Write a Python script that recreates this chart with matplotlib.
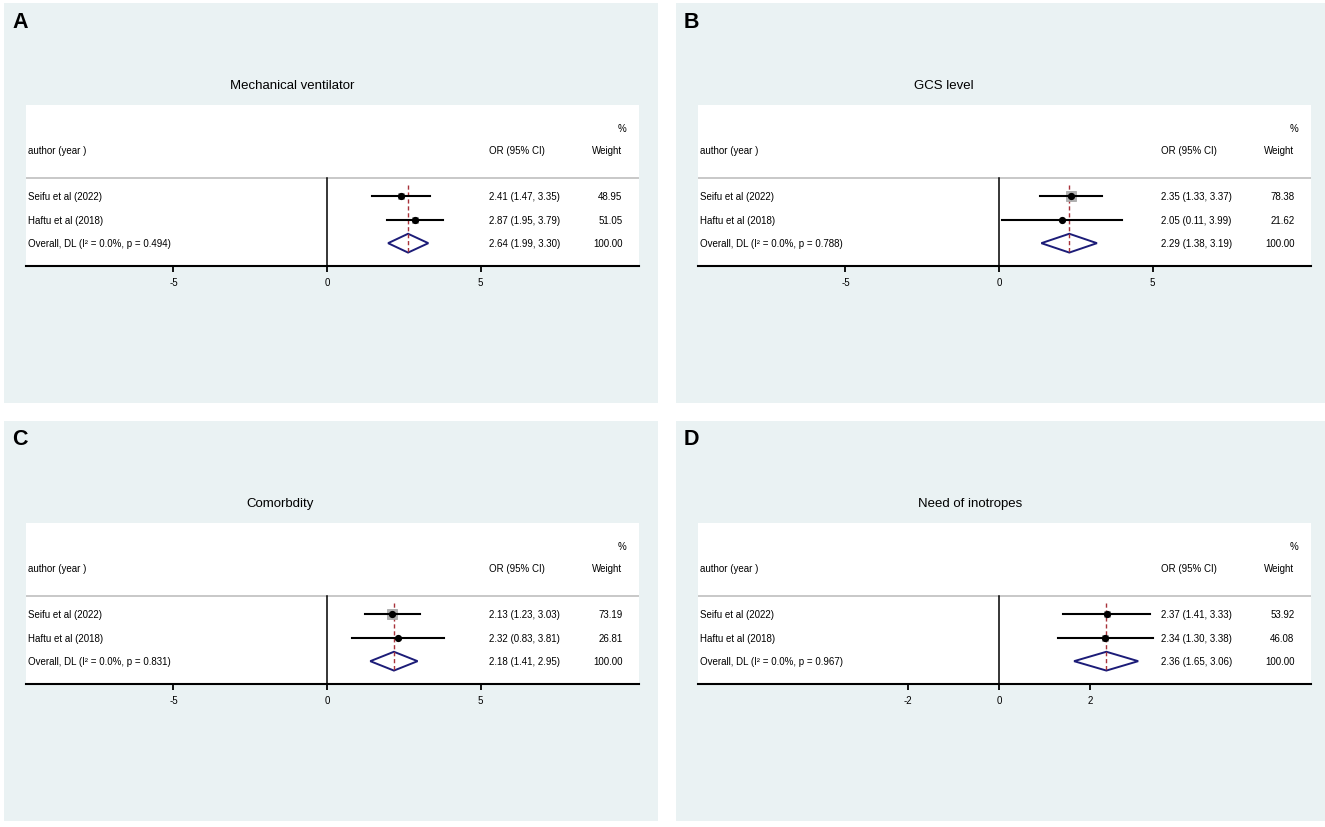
import matplotlib
matplotlib.use("Agg")
import matplotlib.pyplot as plt
from matplotlib.patches import Rectangle, Polygon

plt.rcParams['font.family'] = ['Liberation Sans', 'DejaVu Sans']

# ---------------- data ----------------
panel_letters = ["A", "B", "C", "D"]
titles = ["Mechanical ventilator", "GCS level", "Comorbdity", "Need of inotropes"]
studies = ["Seifu et al (2022)", "Haftu et al (2018)"]

est = [[2.41, 2.87], [2.35, 2.05], [2.13, 2.32], [2.37, 2.34]]
lower = [[1.47, 1.95], [1.33, 0.11], [1.23, 0.83], [1.41, 1.30]]
upper = [[3.35, 3.79], [3.37, 3.99], [3.03, 3.81], [3.33, 3.38]]
weights = [[48.95, 51.05], [78.38, 21.62], [73.19, 26.81], [53.92, 46.08]]

pooled_est = [2.64, 2.29, 2.18, 2.36]
pooled_low = [1.99, 1.38, 1.41, 1.65]
pooled_high = [3.30, 3.19, 2.95, 3.06]
i2 = ["0.0%", "0.0%", "0.0%", "0.0%"]
pvals = ["0.494", "0.788", "0.831", "0.967"]

xticks = [[-5, 0, 5], [-5, 0, 5], [-5, 0, 5], [-2, 0, 2]]
xlims = [(-9.80, 10.16), (-9.80, 10.16), (-9.80, 10.16), (-6.62, 6.86)]

# ---------------- layout (pixels) ----------------
W, H = 1325, 828
fig = plt.figure(figsize=(W / 100, H / 100), dpi=100)
fig.patch.set_facecolor("white")

offsets = [(0, 0), (672, 0), (0, 418), (672, 418)]
title_x = [292, 944, 280, 970]
bg_color = "#eaf2f3"


def fig_rect(x0, y0, x1, y1):
    return [x0 / W, 1 - y1 / H, (x1 - x0) / W, (y1 - y0) / H]


for k in range(4):
    dx, dy = offsets[k]
    # background (graph region)
    x0, y0, x1, y1 = 4 + dx, 4 + dy, min(658 + dx, W), 404 + dy
    fig.add_artist(Rectangle((x0 / W, 1 - y1 / H), (x1 - x0) / W, (y1 - y0) / H,
                             transform=fig.transFigure, facecolor=bg_color,
                             edgecolor="none", zorder=0))
    # panel letter
    fig.text((12 + dx) / W, 1 - (22 + dy) / H, panel_letters[k], fontsize=15.5,
             fontweight="bold", ha="left", va="center")
    # title
    fig.text((title_x[k]) / W, 1 - (86 + dy) / H, titles[k], fontsize=9.5,
             ha="center", va="center")

    ax = fig.add_axes(fig_rect(26 + dx, 105.5 + dy, 639 + dx, 266.5 + dy))
    ax.set_facecolor("white")
    ax.set_xlim(*xlims[k])
    ax.set_ylim(3.95, -2.9)
    for s in ["left", "right", "top"]:
        ax.spines[s].set_visible(False)
    ax.spines["bottom"].set_linewidth(1.5)
    ax.spines["bottom"].set_color("black")
    ax.set_yticks([])
    ax.set_xticks(xticks[k])
    ax.set_xticklabels([str(t) for t in xticks[k]])
    ax.tick_params(axis="x", direction="out", length=4, width=1.3, pad=4.5,
                   labelsize=7, colors="black")

    trans = ax.get_yaxis_transform()  # x in axes fraction, y in data

    # header
    ax.text(0.004, -1.91 + 0.96, "author (year )", transform=trans, fontsize=7,
            ha="left", va="center")
    ax.text(0.756, -0.95, "OR (95% CI)", transform=trans, fontsize=7,
            ha="left", va="center")
    ax.text(0.973, -0.95, "Weight", transform=trans, fontsize=7,
            ha="right", va="center")
    ax.text(0.979, -1.91, "%", transform=trans, fontsize=7,
            ha="right", va="center")

    # separator line
    ax.axhline(0.23, color="#c4c4c4", lw=1.3, zorder=1)
    # null line
    ax.plot([0, 0], [0.23, 3.95], color="black", lw=1.1, zorder=2, clip_on=False)
    # pooled estimate dashed line
    ax.plot([pooled_est[k], pooled_est[k]], [0.54, 3.40], color="#a8323a",
            lw=1.0, dashes=(3, 2), zorder=3)

    # studies
    for i in range(2):
        y = i + 1
        ax.plot([lower[k][i], upper[k][i]], [y, y], color="black", lw=1.5, zorder=4)
        side = 0.125 * weights[k][i] * 0.72
        ax.scatter([est[k][i]], [y], marker="s", s=side ** 2, color="#b0b0b0",
                   edgecolors="#a0a0a0", linewidths=0.5, zorder=3.5)
        ax.plot([est[k][i]], [y], marker="o", ms=4.2, color="black", zorder=5)
        ax.text(0.004, y, studies[i], transform=trans, fontsize=7,
                ha="left", va="center")
        ax.text(0.756, y, f"{est[k][i]:.2f} ({lower[k][i]:.2f}, {upper[k][i]:.2f})",
                transform=trans, fontsize=7, ha="left", va="center")
        ax.text(0.973, y, f"{weights[k][i]:.2f}", transform=trans, fontsize=7,
                ha="right", va="center")

    # overall diamond
    yd = 3
    hh = 0.40
    diamond = Polygon([[pooled_low[k], yd], [pooled_est[k], yd - hh],
                       [pooled_high[k], yd], [pooled_est[k], yd + hh]],
                      closed=True, facecolor="white", edgecolor="#1c1c78",
                      lw=1.4, zorder=2.5)
    ax.add_patch(diamond)
    ax.text(0.004, yd, f"Overall, DL (I² = {i2[k]}, p = {pvals[k]})",
            transform=trans, fontsize=7, ha="left", va="center")
    ax.text(0.756, yd, f"{pooled_est[k]:.2f} ({pooled_low[k]:.2f}, {pooled_high[k]:.2f})",
            transform=trans, fontsize=7, ha="left", va="center")
    ax.text(0.973, yd, f"{sum(weights[k]):.2f}", transform=trans, fontsize=7,
            ha="right", va="center")

fig.savefig("out.png", dpi=100, facecolor="white")
